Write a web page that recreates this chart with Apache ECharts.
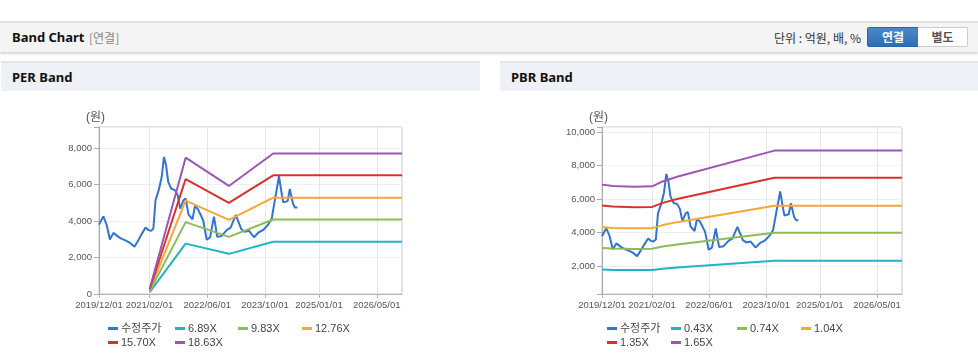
<!DOCTYPE html>
<html><head><meta charset="utf-8">
<script src="https://cdn.jsdelivr.net/npm/echarts@6/dist/echarts.min.js"></script>
<style>
body{margin:0;width:978px;height:361px;overflow:hidden;background:#fff;position:relative;font-family:"Noto Sans","Noto Sans CJK KR",sans-serif}
#hdr{position:absolute;left:0;top:21px;width:978px;height:29px;background:#f4f4f4;border-top:2px solid #e2e2e2;box-shadow:0 2px 2px rgba(0,0,0,0.16)}
#hdr .t{position:absolute;left:12px;top:0;line-height:29px;font-size:13px;font-weight:bold;color:#111}
#hdr .s{position:absolute;left:89px;top:0;line-height:29px;font-size:12px;color:#888;font-family:"Noto Sans CJK KR",sans-serif}
#hdr .u{position:absolute;right:117px;top:0;line-height:29px;font-size:12px;color:#333;font-family:"Noto Sans CJK KR",sans-serif}
#hdr .b1{position:absolute;left:867px;top:4px;width:50px;height:18px;background:linear-gradient(#4a88c9,#2f6db3);border:1px solid #2b64a6;border-radius:2px 0 0 2px;color:#fff;font-weight:bold;font-size:12px;line-height:18px;text-align:center;font-family:"Noto Sans CJK KR",sans-serif}
#hdr .b2{position:absolute;left:918px;top:4px;width:49px;height:18px;background:#fff;border:1px solid #ccc;border-left:none;border-radius:0 2px 2px 0;color:#555;font-weight:bold;font-size:12px;line-height:18px;text-align:center;font-family:"Noto Sans CJK KR",sans-serif}
.pn{position:absolute;top:61px;height:28px;background:#eef1f6;border-top:2px solid #e3e6eb}
.pn span{position:absolute;left:11px;top:0;line-height:29px;font-size:13px;font-weight:bold;color:#111}
#chart{position:absolute;left:0;top:0;width:978px;height:361px}
</style></head>
<body>
<div id="hdr"><span class="t">Band Chart</span><span class="s">[연결]</span><span class="u">단위 : 억원, 배, %</span><span class="b1">연결</span><span class="b2">별도</span></div>
<div class="pn" style="left:1px;width:479px"><span>PER Band</span></div>
<div class="pn" style="left:500px;width:478px"><span>PBR Band</span></div>
<div id="chart"></div>
<script>
// ---- data ----
const xTickLabels = ['2019/12/01','2021/02/01','2022/06/01','2023/10/01','2025/01/01','2026/05/01'];
const xStart = '2019-12-01', xEnd = '2026-12-01';

const priceDates = ['2019-12-01','2019-12-10','2020-01-07','2020-02-04','2020-03-02','2020-04-01','2020-05-13','2020-06-10','2020-07-07','2020-08-19','2020-09-25','2020-10-28','2020-11-25','2020-12-28','2021-01-22','2021-02-13','2021-03-04','2021-03-22','2021-04-19','2021-05-13','2021-06-01','2021-06-19','2021-07-07','2021-08-01','2021-09-04','2021-09-25','2021-10-16','2021-11-13','2021-12-01','2021-12-25','2022-01-28','2022-02-18','2022-03-16','2022-04-01','2022-04-28','2022-05-28','2022-06-25','2022-07-28','2022-08-25','2022-10-01','2022-11-13','2022-12-16','2023-01-28','2023-03-16','2023-04-13','2023-05-19','2023-07-01','2023-08-10','2023-09-19','2023-10-28','2023-11-28','2023-12-25','2024-01-28','2024-02-22','2024-03-04','2024-04-10','2024-04-28','2024-05-25','2024-06-10','2024-07-01'];
const priceValues = [3800,3870,4250,3780,2990,3350,3130,3020,2950,2800,2590,2950,3280,3640,3500,3460,3590,5140,5720,6410,7500,7050,6140,5780,5680,5410,4680,5140,5230,4360,4090,4820,4640,4680,4040,2970,3100,4240,3130,3180,3500,3640,4340,3550,3410,3470,3110,3380,3520,3800,4140,5180,6450,5410,5020,5090,5750,4950,4740,4740];

const perNames = ['6.89X','9.83X','12.76X','15.70X','18.63X'];
const perDates = ['2021-02-01','2021-12-01','2022-12-01','2023-12-10','2026-12-01'];
const per689  = [107, 2760, 2200, 2860, 2860];
const per983  = [152, 3940, 3130, 4080, 4080];
const per1276 = [198, 5120, 4060, 5280, 5280];
const per1570 = [243, 6300, 4990, 6500, 6500];
const per1863 = [289, 7470, 5920, 7700, 7700];

const pbrNames = ['0.43X','0.74X','1.04X','1.35X','1.65X'];
const pbrDates = ['2019-12-01','2020-03-01','2020-09-01','2021-02-01','2021-05-01','2021-09-01','2023-12-10','2026-12-01'];
const pbr043 = [1788, 1767, 1757, 1762, 1837, 1910, 2317, 2317];
const pbr074 = [3077, 3041, 3023, 3032, 3162, 3287, 3987, 3987];
const pbr104 = [4324, 4273, 4248, 4261, 4444, 4620, 5604, 5604];
const pbr135 = [5613, 5547, 5515, 5531, 5769, 5997, 7274, 7274];
const pbr165 = [6860, 6780, 6740, 6760, 7050, 7330, 8890, 8890];

const perRange = [0, 9150];
const pbrRange = [330, 10300];
const yTickStep = 2000;

// ---- build ----
const t = s => { const p = s.split('-').map(Number); return new Date(p[0], p[1]-1, p[2]).getTime(); };
const zip = (d, v) => d.map((s, i) => [t(s), v[i]]);
const monthCats = [];
for (let y = 2019, m = 12; ; ) {
  monthCats.push(y + '/' + String(m).padStart(2,'0') + '/01');
  if (y === 2026 && m === 12) break;
  m++; if (m > 12) { m = 1; y++; }
}
const colors = ['#3274d0','#1fb5c6','#8dbb5a','#f6a734','#d9302c','#9b57b3'];
const font = '"Liberation Sans","Noto Sans CJK KR",sans-serif';
const isTick = (i, v) => xTickLabels.indexOf(v) >= 0;

function catAxis(g){
  return {type:'category', gridIndex:g, data:monthCats, boundaryGap:false,
    axisLine:{show:true, lineStyle:{color:'#b5b5b5'}},
    axisTick:{show:true, interval:isTick, length:4, lineStyle:{color:'#b5b5b5'}},
    axisLabel:{interval:isTick, fontSize:9.5, color:'#555', margin:7, fontFamily:font},
    splitLine:{show:true, interval:isTick, lineStyle:{color:'#e6e6e6'}}};
}
function timeAxis(g){
  return {type:'time', gridIndex:g, min:t(xStart), max:t(xEnd), show:false};
}
function valAxis(g, r){
  return {type:'value', gridIndex:g, min:r[0], max:r[1], splitNumber:5,
    name:'(원)', nameLocation:'end', nameGap:3,
    nameTextStyle:{color:'#555', fontSize:12, align:'right', padding:[0,-6,0,0], fontFamily:font},
    axisLine:{show:true, lineStyle:{color:'#aaa'}},
    axisTick:{show:true, length:5, lineStyle:{color:'#aaa'}},
    axisLabel:{fontSize:9.5, color:'#555', margin:7, fontFamily:font,
      formatter: v => (v % yTickStep === 0) ? v.toLocaleString('en-US') : ''},
    splitLine:{show:true, lineStyle:{color:'#efefef'}}};
}
function line(name, data, ci, xi, yi){
  return {type:'line', name, data, xAxisIndex:xi, yAxisIndex:yi, symbol:'none', smooth:false,
    lineStyle:{width:2, color:colors[ci]}, itemStyle:{color:colors[ci]}, emphasis:{disabled:true}, animation:false};
}
const series = [
  line('수정주가', zip(priceDates, priceValues), 0, 1, 0),
  line(perNames[0], zip(perDates, per689), 1, 1, 0),
  line(perNames[1], zip(perDates, per983), 2, 1, 0),
  line(perNames[2], zip(perDates, per1276), 3, 1, 0),
  line(perNames[3], zip(perDates, per1570), 4, 1, 0),
  line(perNames[4], zip(perDates, per1863), 5, 1, 0),
  line('수정주가 ', zip(priceDates, priceValues), 0, 3, 1),
  line(pbrNames[0], zip(pbrDates, pbr043), 1, 3, 1),
  line(pbrNames[1], zip(pbrDates, pbr074), 2, 3, 1),
  line(pbrNames[2], zip(pbrDates, pbr104), 3, 3, 1),
  line(pbrNames[3], zip(pbrDates, pbr135), 4, 3, 1),
  line(pbrNames[4], zip(pbrDates, pbr165), 5, 3, 1)
];
function leg(name, left, top){
  return {data:[{name, icon:'rect'}], left, top, padding:0, itemWidth:10, itemHeight:3, itemGap:0,
    selectedMode:false, formatter: n => n.trim(),
    textStyle:{fontSize:11, color:'#444', fontFamily:font, lineHeight:13, padding:[0,0,0,-2]}};
}
const colX1 = [108, 175, 238, 302], colX2 = [607, 671, 737, 801], rowY = [322, 336];
const legend = [
  leg('수정주가', colX1[0], rowY[0]), leg(perNames[0], colX1[1], rowY[0]), leg(perNames[1], colX1[2], rowY[0]), leg(perNames[2], colX1[3], rowY[0]),
  leg(perNames[3], colX1[0], rowY[1]), leg(perNames[4], colX1[1], rowY[1]),
  leg('수정주가 ', colX2[0], rowY[0]), leg(pbrNames[0], colX2[1], rowY[0]), leg(pbrNames[1], colX2[2], rowY[0]), leg(pbrNames[2], colX2[3], rowY[0]),
  leg(pbrNames[3], colX2[0], rowY[1]), leg(pbrNames[4], colX2[1], rowY[1])
];
const chart = echarts.init(document.getElementById('chart'), null, {renderer:'canvas'});
chart.setOption({
  animation:false,
  backgroundColor:'transparent',
  grid:[
    {left:99, top:127, width:303, height:167, show:true, borderColor:'#c8c8c8', borderWidth:1, backgroundColor:'transparent', outerBoundsMode:'none'},
    {left:602, top:127, width:300, height:167, show:true, borderColor:'#c8c8c8', borderWidth:1, backgroundColor:'transparent', outerBoundsMode:'none'}
  ],
  xAxis:[catAxis(0), timeAxis(0), catAxis(1), timeAxis(1)],
  yAxis:[valAxis(0, perRange), valAxis(1, pbrRange)],
  legend,
  series
});
</script>
</body></html>
